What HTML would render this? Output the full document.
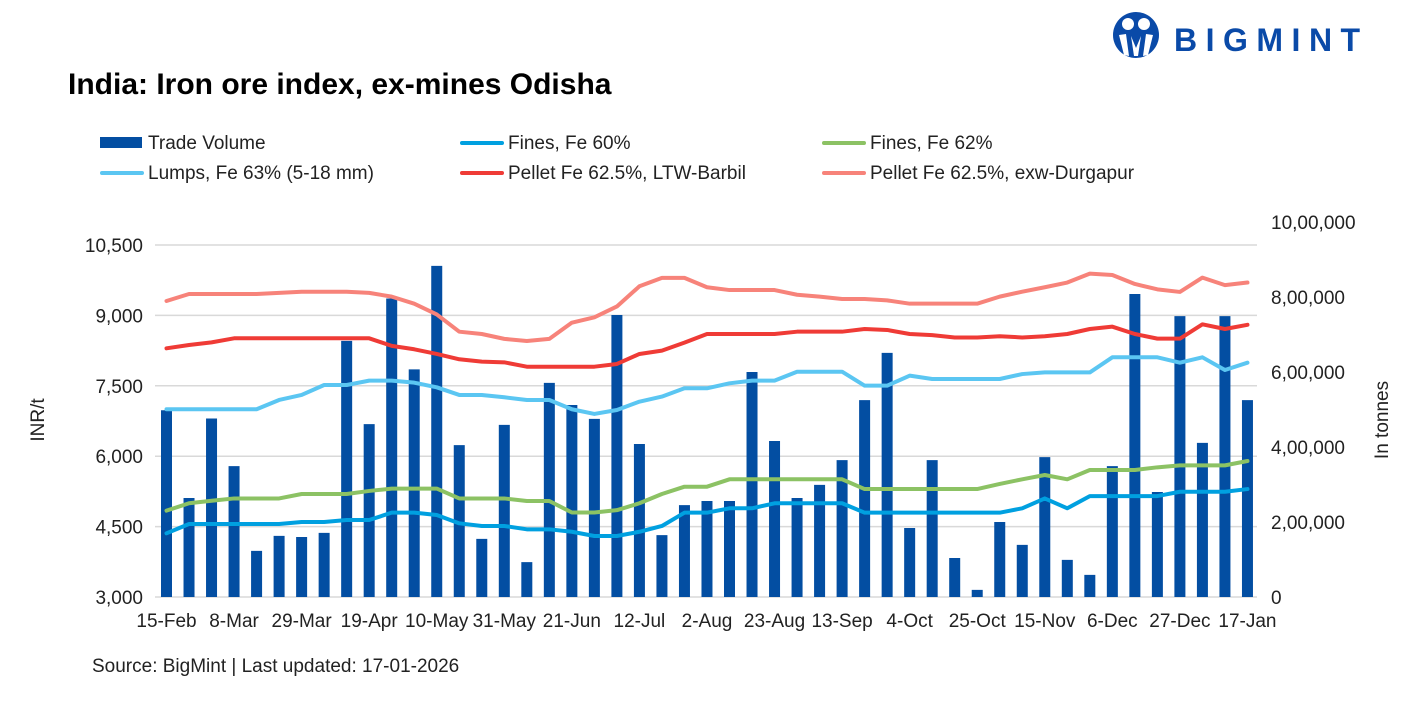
<!DOCTYPE html>
<html><head><meta charset="utf-8"><style>
html,body{margin:0;padding:0;background:#fff;}
body{width:1418px;height:709px;overflow:hidden;position:relative;font-family:"Liberation Sans",sans-serif;}
svg text{font-family:"Liberation Sans",sans-serif;}
</style></head><body>
<svg id="chart" width="1418" height="709" xmlns="http://www.w3.org/2000/svg">
<g>
<circle cx="1136" cy="35" r="23" fill="#0a4aa8"/>
<circle cx="1128" cy="24" r="6" fill="#fff"/>
<circle cx="1144" cy="24" r="6" fill="#fff"/>
<path d="M1119 35 L1126 34 L1129 56 L1124 55 Z M1153 35 L1146 34 L1143 56 L1148 55 Z M1131 36 L1136 48 L1141 36 L1138 56 L1134 56 Z" fill="#fff"/>
<text x="1174" y="51" font-size="32" font-weight="bold" fill="#0a4aa8" letter-spacing="8.5">BIGMINT</text>
</g>
<text x="68" y="94" font-size="30" font-weight="bold" fill="#000">India: Iron ore index, ex-mines Odisha</text>
<g id="legend" font-size="19" fill="#222"></g>
<g id="grid"></g><g id="bars"></g><g id="lines"></g><g id="axes" font-size="19" fill="#222"></g>
<text transform="translate(44,420) rotate(-90)" text-anchor="middle" font-size="19" fill="#222">INR/t</text>
<text transform="translate(1388,420) rotate(-90)" text-anchor="middle" font-size="19" fill="#222">In tonnes</text>
<text x="92" y="672" font-size="19" fill="#222">Source: BigMint | Last updated: 17-01-2026</text>
</svg>
<script>
const xLabels=["15-Feb","8-Mar","29-Mar","19-Apr","10-May","31-May","21-Jun","12-Jul","2-Aug","23-Aug","13-Sep","4-Oct","25-Oct","15-Nov","6-Dec","27-Dec","17-Jan"];
const leftTicks=[3000,4500,6000,7500,9000,10500];
const leftTickLabels=["3,000","4,500","6,000","7,500","9,000","10,500"];
const rightTicks=[0,200000,400000,600000,800000,1000000];
const rightTickLabels=["0","2,00,000","4,00,000","6,00,000","8,00,000","10,00,000"];
const volume=[498,264,476,349,123,163,160,171,683,461,796,607,883,405,155,459,93,571,512,475,752,408,165,245,256,256,600,416,264,299,365,525,651,184,365,104,19,200,139,373,99,59,349,808,280,749,411,749,525].map(v=>v*1000);
const fines60=[4357,4555,4555,4555,4555,4555,4598,4598,4640,4640,4797,4797,4747,4570,4513,4513,4442,4442,4390,4300,4300,4390,4513,4797,4797,4890,4890,4997,4997,4997,4997,4797,4797,4797,4797,4797,4797,4797,4890,5100,4890,5150,5150,5150,5150,5243,5243,5243,5300];
const fines62=[4840,4997,5050,5100,5100,5100,5195,5195,5195,5260,5310,5310,5310,5100,5100,5100,5045,5045,4800,4800,4850,4997,5195,5350,5350,5508,5508,5508,5508,5508,5508,5300,5300,5300,5300,5300,5300,5408,5508,5600,5508,5706,5706,5706,5763,5805,5805,5805,5898];
const lumps=[7000,7000,7000,7000,7000,7198,7305,7517,7517,7610,7610,7567,7468,7305,7305,7255,7198,7198,7000,6900,6985,7162,7270,7447,7447,7553,7610,7610,7800,7800,7800,7503,7503,7716,7645,7645,7645,7645,7750,7785,7785,7785,8107,8107,8107,7993,8107,7837,7993];
const pelletBarbil=[8299,8370,8425,8512,8512,8512,8512,8512,8512,8512,8350,8278,8178,8065,8014,8000,7907,7907,7907,7907,7965,8178,8249,8420,8604,8604,8604,8604,8653,8653,8653,8710,8690,8604,8580,8530,8530,8555,8530,8555,8604,8710,8760,8604,8505,8505,8810,8710,8800];
const pelletDurgapur=[9307,9456,9456,9456,9456,9480,9505,9505,9505,9480,9400,9250,9020,8653,8604,8500,8455,8500,8845,8960,9190,9620,9800,9800,9600,9540,9540,9540,9440,9400,9350,9350,9320,9250,9250,9250,9250,9400,9505,9600,9700,9890,9860,9670,9555,9500,9805,9645,9700];

const NS="http://www.w3.org/2000/svg";
const X0=166.5,DX=22.52,L0=155,L1=1257;
const xs=i=>X0+DX*i;
const yL=v=>597-(v-3000)*352/7500;
const yR=v=>597-v*375/1000000;
function mk(tag,attrs,parent){const e=document.createElementNS(NS,tag);for(const k in attrs)e.setAttribute(k,attrs[k]);document.getElementById(parent).appendChild(e);return e;}

leftTicks.forEach((t,i)=>{
 const g=mk('line',{x1:L0,x2:L1,y1:yL(t),y2:yL(t),stroke:'#d9d9d9','stroke-width':1.5},'grid');
 
 
 const tx=mk('text',{x:143,y:yL(t)+7,'text-anchor':'end'},'axes');tx.textContent=leftTickLabels[i];
 
 
});
rightTicks.forEach((t,i)=>{
 const tx=mk('text',{x:1271,y:yR(t)+7,'text-anchor':'start'},'axes');tx.textContent=rightTickLabels[i];
 
 
});
xLabels.forEach((l,i)=>{
 const tx=mk('text',{x:xs(i*3),y:627,'text-anchor':'middle'},'axes');tx.textContent=l;
 
 
});
volume.forEach((v,i)=>{
 const r=mk('rect',{x:xs(i)-5.5,y:yR(v),width:11,height:597-yR(v),fill:'#034ea2'},'bars');
 
 
});
const series=[[fines60,'#00a0e0','fines-60-line'],[fines62,'#8cc264','fines-62-line'],[lumps,'#5bc6f2','lumps-63-line'],[pelletBarbil,'#ef3b36','pellet-barbil-line'],[pelletDurgapur,'#f7837a','pellet-durgapur-line']];
series.forEach(([d,c,n])=>{
 const p=mk('polyline',{points:d.map((v,i)=>xs(i)+','+yL(v)).join(' '),fill:'none',stroke:c,'stroke-width':4,'stroke-linejoin':'round','stroke-linecap':'round'},'lines');
 
 
});
const leg=[['Trade Volume','#034ea2',100,142,'box'],['Fines, Fe 60%','#00a0e0',460,142,'line'],['Fines, Fe 62%','#8cc264',822,142,'line'],['Lumps, Fe 63% (5-18 mm)','#5bc6f2',100,172,'line'],['Pellet Fe 62.5%, LTW-Barbil','#ef3b36',460,172,'line'],['Pellet Fe  62.5%, exw-Durgapur','#f7837a',822,172,'line']];
leg.forEach(([t,c,x,y,k])=>{
 if(k==='box'){mk('rect',{x:x,y:y-5,width:42,height:11,fill:c},'legend');}
 else{mk('line',{x1:x+2,x2:x+42,y1:y+1,y2:y+1,stroke:c,'stroke-width':4,'stroke-linecap':'round'},'legend');}
 const tx=mk('text',{x:x+48,y:y+7},'legend');tx.textContent=t;
 
 
});
</script>
</body></html>
